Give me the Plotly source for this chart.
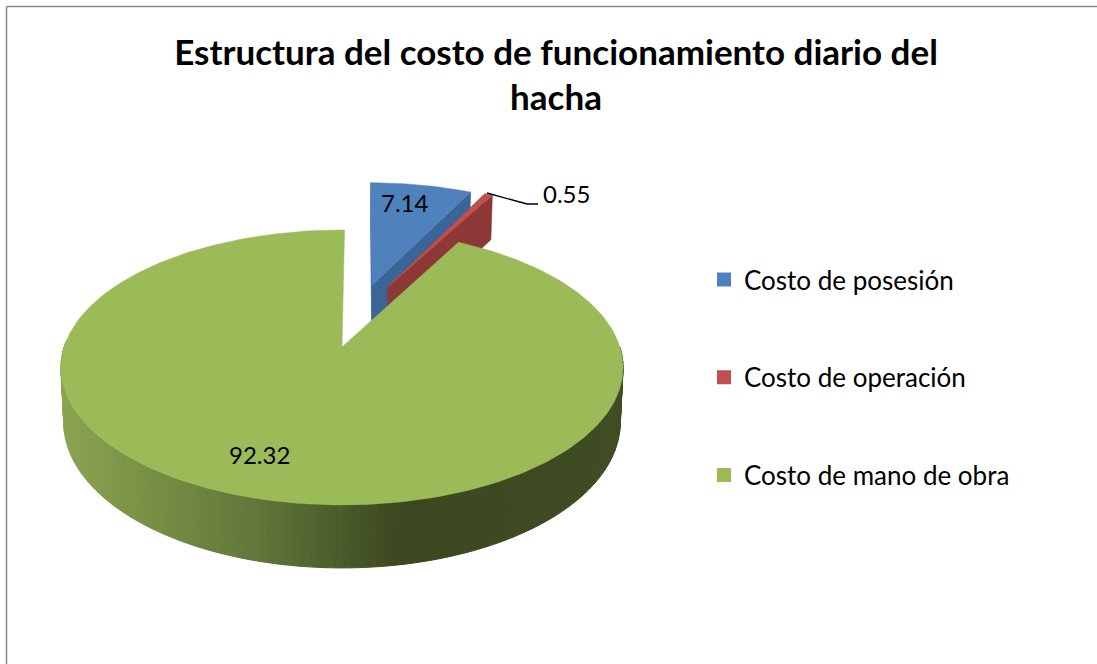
import math
import plotly.graph_objects as go

# ---- data ----
categories = ["Costo de posesión", "Costo de operación", "Costo de mano de obra"]
values = [7.14, 0.55, 92.32]
title_lines = ["Estructura del costo de funcionamiento diario del", "hacha"]

# ---- styles ----
top_colors = ["#4f81bd", "#c0504d", "#9bbb59"]
wall_colors = ["#3b6596", "#8c3836"]
FONT = "Lato"

# ---- 3D view parameters (perspective projection of the pie disc) ----
W, H = 1097, 664
CX, APEX_Y, RX0 = 342.0, 347.0, 277.9
A, C = -82.7, 0.149
DEPTH = 53.6
BOTTOM_SCALE = 0.99
START_DEG = 0.6
PULL = {0: (0.116, 0.495), 1: (0.177, 0.478), 2: (0.0, 0.0)}


def project(u, v, bottom=False):
    w = 1 + C * v
    x = u * RX0 / w
    y = (A * v + APEX_Y) / w
    if bottom:
        y += DEPTH / w
        x *= BOTTOM_SCALE
    return CX + x, y


def arc_points(a0, a1, pull, bottom=False, step=1.0):
    n = max(2, int(abs(a1 - a0) / step) + 1)
    pts = []
    for i in range(n + 1):
        t = math.radians(a0 + (a1 - a0) * i / n)
        pts.append(project(pull[0] + math.sin(t), pull[1] + math.cos(t), bottom))
    return pts


def poly(fig, pts, color, lw=0.0):
    xs = [p[0] for p in pts] + [pts[0][0]]
    ys = [p[1] for p in pts] + [pts[0][1]]
    fig.add_trace(go.Scatter(
        x=xs, y=ys, mode="lines", fill="toself", fillcolor=color,
        line=dict(color=color, width=lw), hoverinfo="skip", showlegend=False,
    ))


def side_color(x):
    stops = [(60, (0x8b, 0xa4, 0x50)), (257, (0x62, 0x77, 0x3a)),
             (407, (0x3b, 0x47, 0x20)), (622, (0x40, 0x4c, 0x22))]
    for (x0, c0), (x1, c1) in zip(stops, stops[1:]):
        if x <= x1:
            f = max(0.0, (x - x0) / (x1 - x0))
            return "rgb(%d,%d,%d)" % tuple(round(a + (b - a) * f) for a, b in zip(c0, c1))
    return "rgb(64,76,34)"


total = sum(values)
spans = []
a = START_DEG
for val in values:
    b = a + val / total * 360
    spans.append((a, b))
    a = b

fig = go.Figure()

# pulled-out slices: cut walls, then top faces
for i in (0, 1):
    a0, a1 = spans[i]
    p = PULL[i]
    for ang in (a0, a1):
        t = math.radians(ang)
        ou, ov = p[0] + math.sin(t), p[1] + math.cos(t)
        poly(fig, [project(*p), project(ou, ov), project(ou, ov, True), project(p[0], p[1], True)], wall_colors[i], 0.5)
    poly(fig, [project(*p)] + arc_points(a0, a1, p), top_colors[i], 0.5)

# large slice: rim band with shading, then the top face
g0, g1 = spans[2]
band_step = 1.5
ang = 90.0
while ang < 272:
    t0, t1 = ang, ang + band_step
    top = arc_points(t0, t1, PULL[2], step=band_step)
    bot = arc_points(t1, t0, PULL[2], True, step=band_step)
    poly(fig, top + bot, side_color(top[0][0]), 1)
    ang += band_step
poly(fig, [project(*PULL[2])] + arc_points(g0, g1, PULL[2]), top_colors[2], 0.5)

# leader line for the small slice
fig.add_trace(go.Scatter(x=[487, 527, 538], y=[193, 204, 204], mode="lines",
                         line=dict(color="black", width=1.3), hoverinfo="skip", showlegend=False))

# legend entries
for name, col in zip(categories, top_colors):
    fig.add_trace(go.Scatter(x=[None], y=[None], mode="markers", name=name, legendgroup=name,
                             marker=dict(symbol="square", size=16, color=col,
                                         line=dict(color=col, width=3))))

label_pos = [(405, 202), (566, 193), (259, 454)]
annotations = [dict(x=x, y=y, xref="x", yref="y", text=f"{v:.2f}", showarrow=False,
                    font=dict(family=FONT, size=24, color="black"))
               for (x, y), v in zip(label_pos, values)]

fig.update_layout(
    width=W, height=H, autosize=False,
    margin=dict(l=0, r=0, t=0, b=0),
    paper_bgcolor="white", plot_bgcolor="white",
    xaxis=dict(range=[0, W], visible=False, fixedrange=True),
    yaxis=dict(range=[H, 0], visible=False, fixedrange=True),
    title=dict(text="<br>".join(title_lines), x=556 / W, xanchor="center", y=1 - 64.5 / H, yanchor="middle",
               font=dict(family=FONT, size=35, color="black", weight="bold")),
    legend=dict(x=704 / W, y=1 - 256 / H, xanchor="left", yanchor="top",
                font=dict(family=FONT, size=26, color="black"),
                tracegroupgap=61, itemsizing="constant", bgcolor="rgba(0,0,0,0)"),
    annotations=annotations,
    shapes=[
        dict(type="line", xref="paper", yref="paper", x0=6.5 / W, x1=6.5 / W, y0=0, y1=1 - 6.5 / H,
             line=dict(color="#898989", width=1.5)),
        dict(type="line", xref="paper", yref="paper", x0=6.5 / W, x1=1, y0=1 - 6.5 / H, y1=1 - 6.5 / H,
             line=dict(color="#898989", width=1.5)),
    ],
)

fig.write_html("out.html", config=dict(displayModeBar=False),
               post_script="document.body.style.margin='0';document.documentElement.style.overflow='hidden';")
